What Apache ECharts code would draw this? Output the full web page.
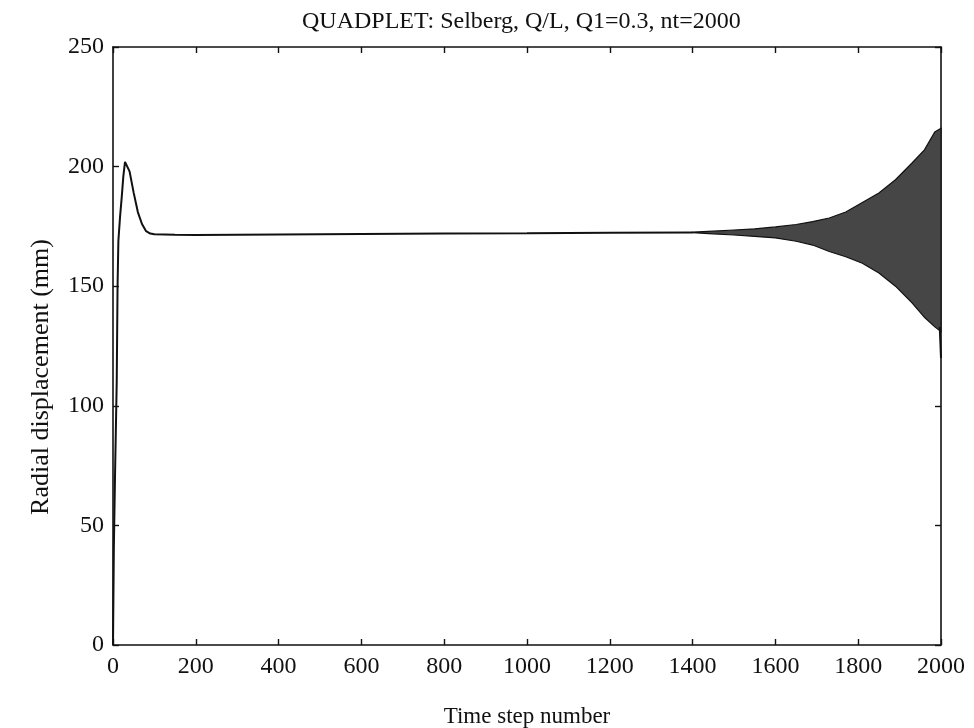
<!DOCTYPE html>
<html>
<head>
<meta charset="utf-8">
<title>QUADPLET</title>
<script src="https://cdn.jsdelivr.net/npm/echarts@6/dist/echarts.min.js"></script>
<style>
  html, body { margin: 0; padding: 0; background: #fff; }
  #chart { width: 974px; height: 728px; }
</style>
</head>
<body>
<div id="chart"></div>
<script>
// main response curve (time step, radial displacement in mm)
const curveX = [0, 2, 5, 9, 11, 13, 17, 21, 25, 29, 33, 40, 50, 60, 70, 80, 90, 100, 150, 200, 300, 400, 600, 800, 1000, 1200, 1400]
const curveY = [0, 40, 72, 110, 150, 169, 179, 187, 196, 202, 202.5, 198, 189, 181, 176, 173, 172, 171.7, 171.5, 171.4, 171.5, 171.6, 171.8, 172, 172.1, 172.3, 172.5]

// growing oscillation at the end, drawn as its envelope
const bandX = [1400, 1450, 1500, 1550, 1600, 1650, 1690, 1730, 1770, 1810, 1850, 1890, 1930, 1960, 1985, 2000]
const bandHi = [172.6, 173, 173.5, 174, 174.8, 175.8, 177, 178.5, 181, 185, 189, 194.5, 201.5, 207, 214.5, 216]
const bandLo = [172.4, 171.9, 171.4, 170.8, 170.2, 168.8, 167.2, 164.5, 162.3, 159.6, 155.5, 150, 143, 137, 133, 131]

// last step falls down along the right edge
const tailX = [1997, 2000]
const tailY = [133, 120]

const xTicks = { min: 0, max: 2000, interval: 200 }
const yTicks = { min: 0, max: 250, interval: 50 }

const chart = echarts.init(document.getElementById('chart'))

const font = 'Liberation Serif'
const axisLine = { show: true, onZero: false, lineStyle: { color: '#111', width: 1.6 } }
const tick = { show: true, inside: true, length: 6, lineStyle: { color: '#111', width: 1.4 } }

function renderBand(params, api) {
  if (params.dataIndex !== 0) return
  const top = bandX.map((x, i) => api.coord([x, bandHi[i]]))
  const bottom = bandX.map((x, i) => api.coord([x, bandLo[i]])).reverse()
  return {
    type: 'polygon',
    shape: { points: top.concat(bottom) },
    style: { fill: '#464646', stroke: '#111', lineWidth: 1.2 }
  }
}

const option = {
  animation: false,
  backgroundColor: '#fff',
  title: {
    text: 'QUADPLET: Selberg, Q/L, Q1=0.3, nt=2000',
    left: 297,
    top: 5,
    textStyle: { fontFamily: font, fontSize: 24, fontWeight: 'normal', color: '#111' }
  },
  grid: { left: 113, right: 33, top: 47, bottom: 83, outerBoundsMode: 'none' },
  xAxis: [
    {
      type: 'value', ...xTicks,
      name: 'Time step number',
      nameLocation: 'middle',
      nameGap: 60,
      nameTextStyle: { fontFamily: font, fontSize: 23, color: '#111' },
      axisLine, axisTick: tick,
      axisLabel: { fontFamily: font, fontSize: 24, color: '#111', margin: 10, formatter: v => String(v) },
      splitLine: { show: false }
    },
    {
      type: 'value', ...xTicks, position: 'top',
      axisLine, axisTick: tick,
      axisLabel: { show: false },
      splitLine: { show: false }
    }
  ],
  yAxis: [
    {
      type: 'value', ...yTicks,
      name: 'Radial displacement (mm)',
      nameLocation: 'middle',
      nameGap: 59,
      nameTextStyle: { fontFamily: font, fontSize: 26, color: '#111', padding: [0, 62, 0, 0] },
      axisLine, axisTick: tick,
      axisLabel: { fontFamily: font, fontSize: 24, color: '#111', margin: 9 },
      splitLine: { show: false }
    },
    {
      type: 'value', ...yTicks, position: 'right',
      axisLine, axisTick: tick,
      axisLabel: { show: false },
      splitLine: { show: false }
    }
  ],
  series: [
    {
      type: 'line',
      data: curveX.map((x, i) => [x, curveY[i]]),
      symbol: 'none',
      lineStyle: { color: '#111', width: 2 }
    },
    {
      type: 'custom',
      renderItem: renderBand,
      data: bandX.map((x, i) => [x, bandLo[i], bandHi[i]]),
      encode: { x: 0, y: [1, 2] }
    },
    {
      type: 'line',
      data: tailX.map((x, i) => [x, tailY[i]]),
      symbol: 'none',
      lineStyle: { color: '#111', width: 2 }
    }
  ]
}

chart.setOption(option)
</script>
</body>
</html>
